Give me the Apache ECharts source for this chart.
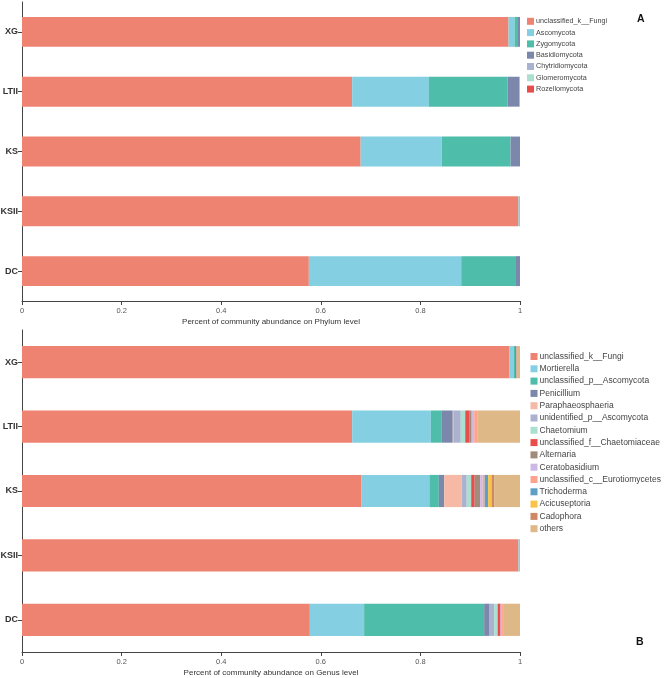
<!DOCTYPE html>
<html>
<head>
<meta charset="utf-8">
<script src="https://cdn.jsdelivr.net/npm/echarts@6/dist/echarts.min.js"></script>
<style>
html,body{margin:0;padding:0;background:#fff;}
#chart{width:669px;height:678px;}
</style>
</head>
<body>
<div id="chart"></div>
<script>
// ---------- data ----------
var categories = ['XG', 'LTII', 'KS', 'KSII', 'DC'];
var xTicks = [0, 0.2, 0.4, 0.6, 0.8, 1];

// Phylum level (panel A)
var phylumNames = ['unclassified_k__Fungi', 'Ascomycota', 'Zygomycota', 'Basidiomycota', 'Chytridiomycota', 'Glomeromycota', 'Rozellomycota'];
var phylum_unclassified_k__Fungi = [0.977, 0.663, 0.680, 0.997, 0.576];
var phylum_Ascomycota = [0.012, 0.154, 0.163, 0.003, 0.306];
var phylum_Zygomycota = [0.007, 0.158, 0.138, 0.000, 0.110];
var phylum_Basidiomycota = [0.004, 0.024, 0.019, 0.000, 0.008];
var phylum_Chytridiomycota = [0.000, 0.001, 0.000, 0.000, 0.000];
var phylum_Glomeromycota = [0.000, 0.000, 0.000, 0.000, 0.000];
var phylum_Rozellomycota = [0.000, 0.000, 0.000, 0.000, 0.000];

// Genus level (panel B)
var genusNames = ['unclassified_k__Fungi', 'Mortierella', 'unclassified_p__Ascomycota', 'Penicillium', 'Paraphaeosphaeria', 'unidentified_p__Ascomycota', 'Chaetomium', 'unclassified_f__Chaetomiaceae', 'Alternaria', 'Ceratobasidium', 'unclassified_c__Eurotiomycetes', 'Trichoderma', 'Acicuseptoria', 'Cadophora', 'others'];
var genus_unclassified_k__Fungi = [0.979, 0.663, 0.681, 0.997, 0.578];
var genus_Mortierella = [0.008, 0.158, 0.137, 0.001, 0.109];
var genus_unclassified_p__Ascomycota = [0.003, 0.021, 0.019, 0.000, 0.241];
var genus_Penicillium = [0.002, 0.023, 0.011, 0.000, 0.011];
var genus_Paraphaeosphaeria = [0.000, 0.001, 0.035, 0.000, 0.000];
var genus_unidentified_p__Ascomycota = [0.001, 0.015, 0.010, 0.000, 0.009];
var genus_Chaetomium = [0.000, 0.009, 0.009, 0.000, 0.007];
var genus_unclassified_f__Chaetomiaceae = [0.000, 0.009, 0.007, 0.000, 0.006];
var genus_Alternaria = [0.000, 0.004, 0.011, 0.000, 0.000];
var genus_Ceratobasidium = [0.000, 0.005, 0.005, 0.000, 0.003];
var genus_unclassified_c__Eurotiomycetes = [0.000, 0.006, 0.004, 0.000, 0.002];
var genus_Trichoderma = [0.000, 0.000, 0.007, 0.000, 0.000];
var genus_Acicuseptoria = [0.000, 0.000, 0.007, 0.000, 0.000];
var genus_Cadophora = [0.001, 0.000, 0.005, 0.000, 0.000];
var genus_others = [0.006, 0.086, 0.052, 0.002, 0.034];

var phylumValues = [phylum_unclassified_k__Fungi, phylum_Ascomycota, phylum_Zygomycota, phylum_Basidiomycota, phylum_Chytridiomycota, phylum_Glomeromycota, phylum_Rozellomycota];
var genusValues = [genus_unclassified_k__Fungi, genus_Mortierella, genus_unclassified_p__Ascomycota, genus_Penicillium, genus_Paraphaeosphaeria, genus_unidentified_p__Ascomycota, genus_Chaetomium, genus_unclassified_f__Chaetomiaceae, genus_Alternaria, genus_Ceratobasidium, genus_unclassified_c__Eurotiomycetes, genus_Trichoderma, genus_Acicuseptoria, genus_Cadophora, genus_others];

// ---------- styles ----------
var phylumColors = ['#EF8372', '#84D0E2', '#4EBDA9', '#7B88AC', '#AAB2CF', '#ABDFD0', '#E84C4B'];
var genusColors = ['#EF8372', '#84D0E2', '#4EBDA9', '#7B88AC', '#F6B9A6', '#AAB2CF', '#ABDFD0', '#E84C4B', '#A18B7A', '#CDB9E6', '#FFA38C', '#5E9FC4', '#F8C347', '#CE8866', '#DEB887'];

var FONT = 'Liberation Sans, Arial, sans-serif';
var axisColor = '#444';

function xAxisDef(gridIndex, name) {
  return {
    type: 'value', gridIndex: gridIndex, min: 0, max: 1, interval: 0.2,
    name: name, nameLocation: 'middle', nameGap: 17,
    nameTextStyle: {fontSize: 8, color: '#333', fontFamily: FONT},
    axisLine: {show: true, lineStyle: {color: axisColor, width: 1}},
    axisTick: {show: true, length: 4, lineStyle: {color: axisColor}},
    axisLabel: {fontSize: 7.5, color: '#555', margin: 6, fontFamily: FONT,
      formatter: function (v) { return String(+v.toFixed(1)); }},
    splitLine: {show: false}
  };
}
function yAxisDef(gridIndex) {
  return {
    type: 'category', gridIndex: gridIndex, data: categories, inverse: true,
    axisLine: {show: true, lineStyle: {color: axisColor, width: 1}},
    axisTick: {show: true, alignWithLabel: true, length: 4, lineStyle: {color: axisColor}},
    axisLabel: {fontSize: 9, fontWeight: 'bold', color: '#333', margin: 4, fontFamily: FONT}
  };
}

var series = [];
phylumNames.forEach(function (n, i) {
  series.push({
    name: n, type: 'bar', stack: 'phylum', xAxisIndex: 0, yAxisIndex: 0,
    barWidth: '50%', data: phylumValues[i],
    itemStyle: {color: phylumColors[i]}, emphasis: {disabled: true}
  });
});
genusNames.forEach(function (n, i) {
  series.push({
    name: n, type: 'bar', stack: 'genus', xAxisIndex: 1, yAxisIndex: 1,
    barWidth: '50%', data: genusValues[i],
    itemStyle: {color: genusColors[i]}, emphasis: {disabled: true}
  });
});

var chart = echarts.init(document.getElementById('chart'), null, {renderer: 'canvas'});
chart.setOption({
  animation: false,
  backgroundColor: '#fff',
  grid: [
    {left: 22, right: 149, top: 2, height: 299, containLabel: false, outerBoundsMode: 'none'},
    {left: 22, right: 149, top: 330, height: 322, containLabel: false, outerBoundsMode: 'none'}
  ],
  xAxis: [
    xAxisDef(0, 'Percent of community abundance on Phylum level'),
    xAxisDef(1, 'Percent of community abundance on Genus level')
  ],
  yAxis: [yAxisDef(0), yAxisDef(1)],
  legend: [
    {
      data: phylumNames, orient: 'vertical', left: 527, top: 17.3, padding: 0,
      itemWidth: 7, itemHeight: 7, itemGap: 3.3, selectedMode: false,
      icon: 'rect',
      textStyle: {fontSize: 7.2, color: '#444', fontFamily: FONT, padding: [0, 0, 0, -3], lineHeight: 8}
    },
    {
      data: genusNames, orient: 'vertical', left: 530.5, top: 352, padding: 0,
      itemWidth: 7, itemHeight: 7, itemGap: 3.3, selectedMode: false,
      icon: 'rect',
      textStyle: {fontSize: 8.5, color: '#444', fontFamily: FONT, padding: [0, 0, 0, -3], lineHeight: 9}
    }
  ],
  graphic: [
    {type: 'text', left: 637, top: 14, style: {text: 'A', fontSize: 10.5, fontWeight: 'bold', fill: '#111', fontFamily: FONT}},
    {type: 'text', left: 636, top: 637, style: {text: 'B', fontSize: 10.5, fontWeight: 'bold', fill: '#111', fontFamily: FONT}}
  ],
  series: series
});
</script>
</body>
</html>
